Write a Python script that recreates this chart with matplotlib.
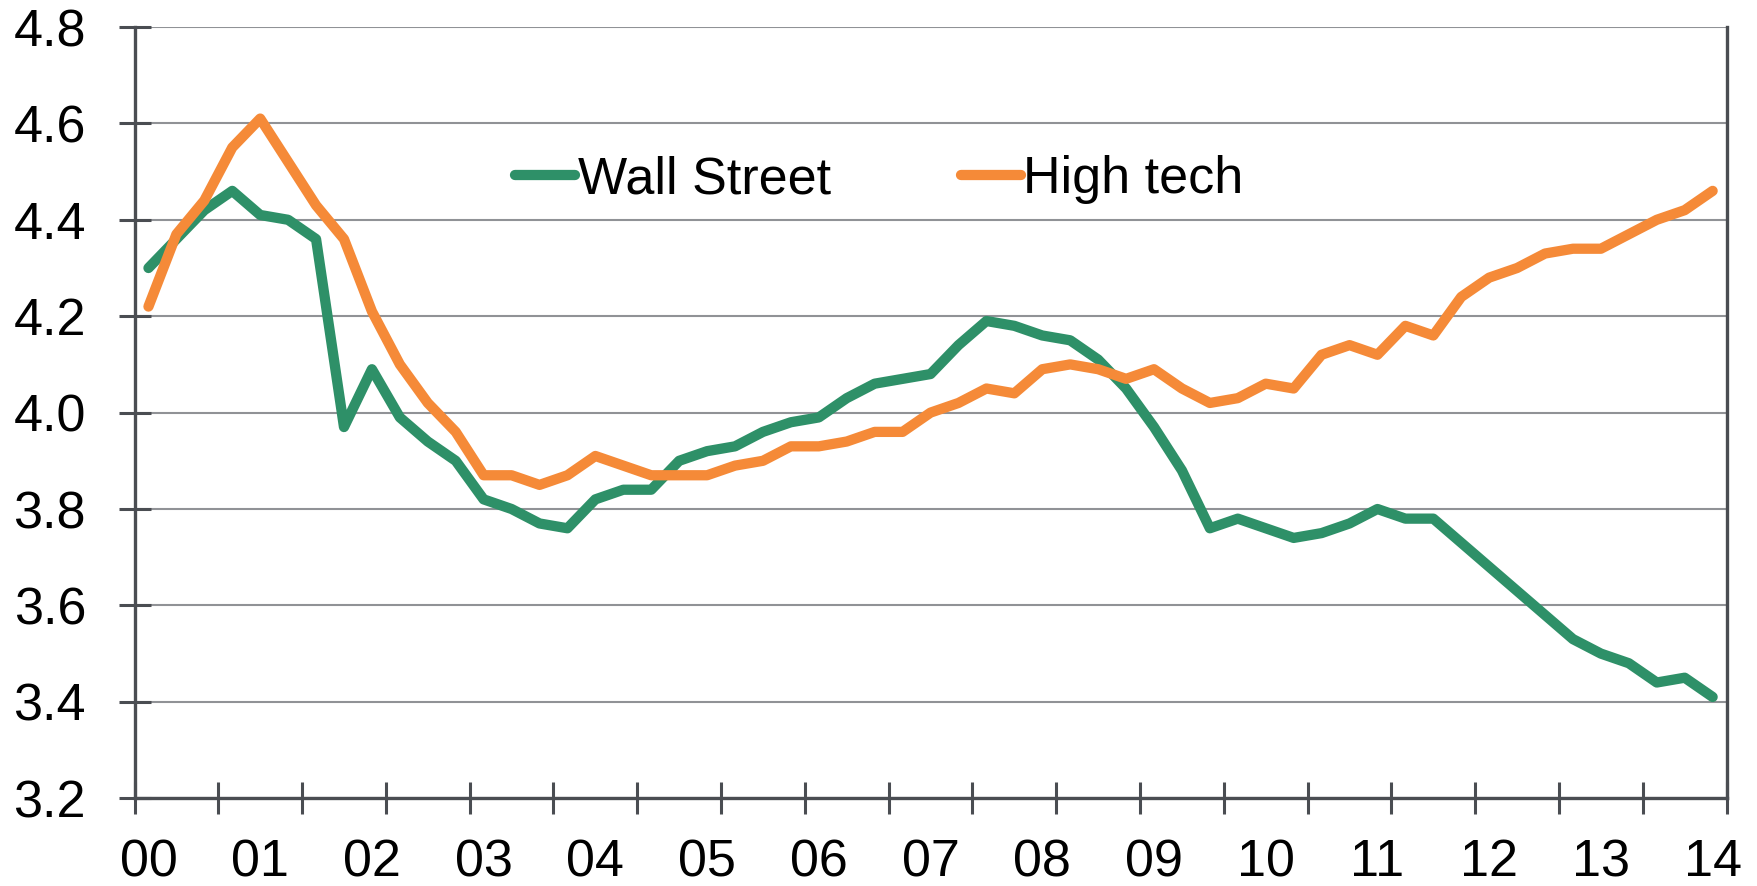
import matplotlib.pyplot as plt
import numpy as np

plt.rcParams["font.family"] = ["Liberation Sans", "DejaVu Sans"]

# quarterly series, 2000Q1 .. 2014Q1
wall_street = [4.30, 4.36, 4.42, 4.46, 4.41, 4.40, 4.36, 3.97, 4.09, 3.99,
               3.94, 3.90, 3.82, 3.80, 3.77, 3.76, 3.82, 3.84, 3.84, 3.90,
               3.92, 3.93, 3.96, 3.98, 3.99, 4.03, 4.06, 4.07, 4.08, 4.14,
               4.19, 4.18, 4.16, 4.15, 4.11, 4.05, 3.97, 3.88, 3.76, 3.78,
               3.76, 3.74, 3.75, 3.77, 3.80, 3.78, 3.78, 3.73, 3.68, 3.63,
               3.58, 3.53, 3.50, 3.48, 3.44, 3.45, 3.41]
high_tech = [4.22, 4.37, 4.44, 4.55, 4.61, 4.52, 4.43, 4.36, 4.21, 4.10,
             4.02, 3.96, 3.87, 3.87, 3.85, 3.87, 3.91, 3.89, 3.87, 3.87,
             3.87, 3.89, 3.90, 3.93, 3.93, 3.94, 3.96, 3.96, 4.00, 4.02,
             4.05, 4.04, 4.09, 4.10, 4.09, 4.07, 4.09, 4.05, 4.02, 4.03,
             4.06, 4.05, 4.12, 4.14, 4.12, 4.18, 4.16, 4.24, 4.28, 4.30,
             4.33, 4.34, 4.34, 4.37, 4.40, 4.42, 4.46]
year_labels = ["00", "01", "02", "03", "04", "05", "06", "07",
               "08", "09", "10", "11", "12", "13", "14"]
y_ticks = [3.2, 3.4, 3.6, 3.8, 4.0, 4.2, 4.4, 4.6, 4.8]

green = "#2e9068"
orange = "#f58a38"
axis_col = "#4a4d52"
fs = 37.5

fig = plt.figure(figsize=(17.58, 8.86), dpi=100)
ax = fig.add_axes([134.5 / 1758, 1 - 798.2 / 886, (1726.6 - 134.5) / 1758, (798.2 - 27) / 886])

x = np.arange(len(wall_street))
ax.plot(x, wall_street, color=green, lw=7.4, solid_capstyle="round",
        solid_joinstyle="round", label="Wall Street", zorder=3)
ax.plot(x, high_tech, color=orange, lw=7.4, solid_capstyle="round",
        solid_joinstyle="round", label="High tech", zorder=3)

ax.set_xlim(-0.5, len(x) - 0.5)
ax.set_ylim(3.2, 4.8)

ax.set_yticks(y_ticks)
ax.set_yticklabels([f"{v:.1f}" for v in y_ticks])
ax.yaxis.grid(True, color="#909296", lw=1.5, zorder=1)
ax.set_axisbelow(True)

ax.set_xticks(x[::4])
ax.set_xticklabels(year_labels)
ax.set_xticks(np.arange(-0.5, len(x), 3), minor=True)

ax.tick_params(axis="y", direction="inout", length=23, width=2.2, color=axis_col,
               pad=23.4, labelsize=fs)
ax.tick_params(axis="x", which="major", length=0, pad=29, labelsize=fs)
ax.tick_params(axis="x", which="minor", direction="inout", length=23, width=2.2,
               color=axis_col)

for side in ["left", "right", "bottom"]:
    ax.spines[side].set_color(axis_col)
    ax.spines[side].set_linewidth(2.4)
ax.spines["top"].set_visible(False)

leg = ax.legend(loc="center left", bbox_to_anchor=(515 / 1758, 1 - 180 / 886),
                bbox_transform=fig.transFigure, ncol=2, frameon=False,
                fontsize=fs, handlelength=1.15, handletextpad=0.05,
                columnspacing=2.5, borderpad=0, borderaxespad=0)

plt.savefig("out.png", dpi=100)
plt.close()
